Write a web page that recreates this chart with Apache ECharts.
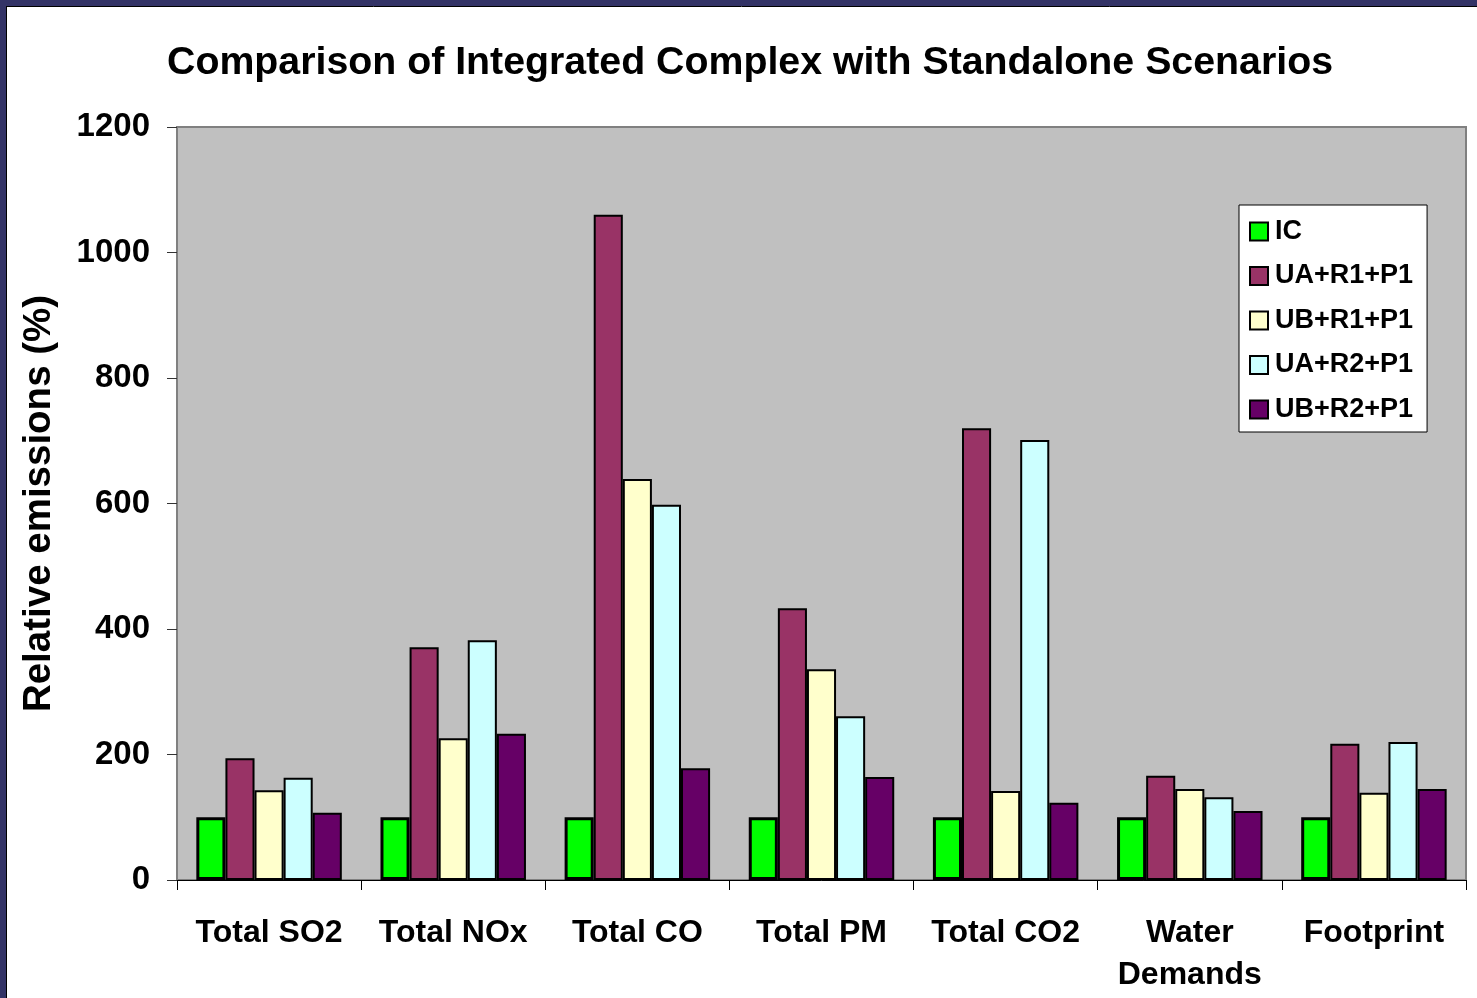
<!DOCTYPE html>
<html><head><meta charset="utf-8">
<script src="https://cdn.jsdelivr.net/npm/echarts@6/dist/echarts.min.js"></script>
<style>html,body{margin:0;padding:0;background:#fff}#c{width:1477px;height:998px}</style>
</head><body><div id="c"></div>
<script>
const categories = ['Total SO2','Total NOx','Total CO','Total PM','Total CO2','Water\nDemands','Footprint'];
const seriesNames = ['IC','UA+R1+P1','UB+R1+P1','UA+R2+P1','UB+R2+P1'];
const IC      = [100, 100, 100, 100, 100, 100, 100];
const UA_R1_P1 = [194, 371, 1060, 433, 720, 166, 217];
const UB_R1_P1 = [143, 226, 639, 336, 142, 145, 139];
const UA_R2_P1 = [163, 382, 598, 261, 701, 132, 220];
const UB_R2_P1 = [107, 233, 178, 164, 123, 110, 145];
const colors = ['#00FF00','#993366','#FFFFCC','#CCFFFF','#660066'];
const yTicks = [0, 200, 400, 600, 800, 1000, 1200];

const values = [IC, UA_R1_P1, UB_R1_P1, UA_R2_P1, UB_R2_P1];
const font = 'Liberation Sans, Arial, sans-serif';
const chart = echarts.init(document.getElementById('c'));
chart.setOption({
  animation: false,
  backgroundColor: '#fff',
  textStyle: {fontFamily: font},
  title: {
    text: 'Comparison of Integrated Complex with Standalone Scenarios',
    left: 745, top: 39, textAlign: 'center',
    textStyle: {fontSize: 39.3, fontWeight: 'bold', color: '#000', fontFamily: font}
  },
  graphic: [
    {type: 'rect', shape: {x: 0, y: 0, width: 1477, height: 6}, style: {fill: '#333366'}, z: 100},
    {type: 'rect', shape: {x: 0, y: 0, width: 6, height: 998}, style: {fill: '#333366'}, z: 100},
    {type: 'line', shape: {x1: 6, y1: 6.5, x2: 1477, y2: 6.5}, style: {stroke: '#000', lineWidth: 1}, z: 100},
    {type: 'line', shape: {x1: 6.5, y1: 6, x2: 6.5, y2: 998}, style: {stroke: '#000', lineWidth: 1}, z: 100}
  ],
  legend: {
    orient: 'vertical', left: 1239, top: 205,
    backgroundColor: '#fff', borderColor: '#000', borderWidth: 1,
    padding: [13, 14, 9, 10],
    itemWidth: 18, itemHeight: 18, itemGap: 17.5,
    icon: 'rect',
    textStyle: {fontSize: 27, fontWeight: 'bold', color: '#000', fontFamily: font, padding: [0,0,0,2]},
    data: seriesNames
  },
  grid: {left: 177, right: 11, top: 127, bottom: 118, show: true,
         backgroundColor: '#C0C0C0', borderColor: '#808080', borderWidth: 2},
  xAxis: {
    type: 'category', data: categories,
    axisLine: {lineStyle: {color: '#000', width: 1}},
    axisTick: {show: true, interval: 0, length: 10, lineStyle: {color: '#000'}},
    axisLabel: {interval: 0, fontSize: 32, fontWeight: 'bold', color: '#000', margin: 32, lineHeight: 42, fontFamily: font}
  },
  yAxis: {
    type: 'value', min: 0, max: 1200, interval: 200,
    name: 'Relative emissions (%)', nameLocation: 'middle', nameGap: 118,
    nameTextStyle: {fontSize: 38.5, fontWeight: 'bold', color: '#000', fontFamily: font},
    axisLine: {show: true, lineStyle: {color: '#808080', width: 2}},
    axisTick: {show: true, length: 10, lineStyle: {color: '#333'}},
    splitLine: {show: false},
    axisLabel: {fontSize: 33, fontWeight: 'bold', color: '#000', margin: 27, fontFamily: font,
      formatter: v => yTicks.includes(v) ? String(v) : ''}
  },
  series: seriesNames.map((n, i) => ({
    name: n, type: 'bar', data: values[i],
    barGap: '0%', barCategoryGap: '21%',
    itemStyle: {color: colors[i], borderColor: '#000', borderWidth: i === 0 ? 3 : 2}
  }))
});
</script></body></html>
